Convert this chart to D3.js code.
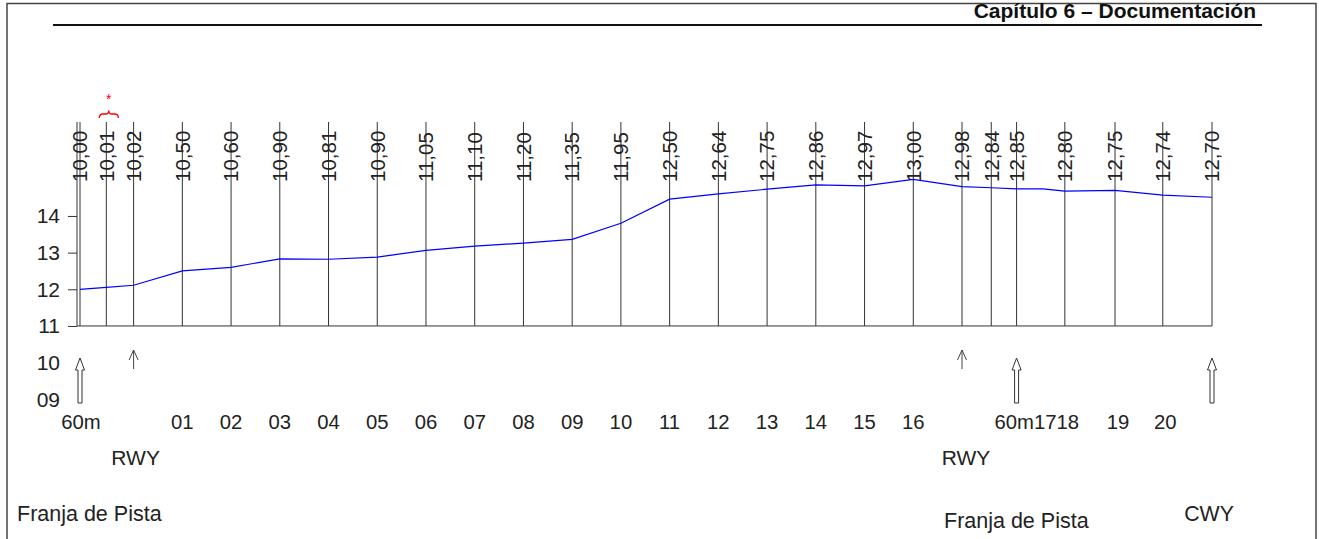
<!DOCTYPE html>
<html>
<head>
<meta charset="utf-8">
<script src="https://cdn.jsdelivr.net/npm/d3@7"></script>
<style>
  body { margin: 0; background: #fff; }
  svg { display: block; font-family: "Liberation Sans", Arial, sans-serif; }
  text { fill: #222; }
</style>
</head>
<body>
<svg id="chart" width="1319" height="539"></svg>
<script>
// stations with vertical line + rotated level label (distance from threshold, m)
var stationDist = [-110, -56, 0, 100, 200, 300, 400, 500, 600, 700, 800, 900, 1000,
    1100, 1200, 1300, 1400, 1500, 1600, 1700, 1760, 1812, 1911, 2014, 2112, 2213];
var stationLabels = ["10,00", "10,01", "10,02", "10,50", "10,60", "10,90", "10,81", "10,90",
    "11,05", "11,10", "11,20", "11,35", "11,95", "12,50", "12,64", "12,75", "12,86", "12,97",
    "13,00", "12,98", "12,84", "12,85", "12,80", "12,75", "12,74", "12,70"];

// blue profile as drawn
var profileDist = [-110, -56, 0, 100, 200, 300, 400, 500, 600, 700, 800, 900, 1000,
    1100, 1200, 1300, 1400, 1500, 1600, 1700, 1760, 1812, 1866, 1911, 2014, 2112, 2213];
var profileElev = [10.00, 10.05, 10.11, 10.50, 10.60, 10.83, 10.82, 10.88, 11.06, 11.18,
    11.26, 11.36, 11.80, 12.46, 12.60, 12.73, 12.85, 12.82, 13.00, 12.80, 12.77, 12.74,
    12.74, 12.68, 12.70, 12.57, 12.51];

// y axis ticks and the labels printed next to them
var yTickValues = [12, 11, 10, 9, 8, 7];
var yTickLabels = ["14", "13", "12", "11", "10", "09"];

// station names under the chart
var bottomNames = ["60m", "01", "02", "03", "04", "05", "06", "07", "08", "09", "10", "11",
    "12", "13", "14", "15", "16", "60m", "17", "18", "19", "20"];
var bottomDist = [-108, 100, 200, 300, 400, 500, 600, 700, 800, 900, 1000, 1100, 1200,
    1300, 1400, 1500, 1600, 1807, 1871, 1917, 2020, 2117];

// arrows: big hollow ones and thin ones
var bigArrowDist = [-110, 1812, 2213];
var thinArrowDist = [0, 1700];

var svg = d3.select("#chart");

var x = d3.scaleLinear().domain([-110, 2213]).range([80, 1212]);
var y = d3.scaleLinear().domain([7, 13]).range([399.3, 179.3]);

var lineTop = 122;
var baseY = y(9);

// page frame + header
svg.append("rect")
    .attr("x", 7).attr("y", 3.5).attr("width", 1309).attr("height", 560)
    .attr("fill", "none").attr("stroke", "#444").attr("stroke-width", 1.5);
svg.append("line")
    .attr("x1", 53).attr("x2", 1262).attr("y1", 25).attr("y2", 25)
    .attr("stroke", "#111").attr("stroke-width", 2);
svg.append("text")
    .attr("x", 1256).attr("y", 18)
    .attr("text-anchor", "end")
    .attr("font-size", 21).attr("font-weight", "bold")
    .style("fill", "#111")
    .text("Capítulo 6 – Documentación");

// y axis
var yAxis = d3.axisLeft(y)
    .tickValues(yTickValues)
    .tickFormat(function (d, i) { return yTickLabels[i]; })
    .tickSize(9)
    .tickPadding(8);
var gy = svg.append("g")
    .attr("transform", "translate(77,0)")
    .call(yAxis);
gy.select(".domain").remove();
gy.selectAll(".tick line")
    .attr("stroke", "#333")
    .attr("display", function (d) { return d < 9 ? "none" : null; });
gy.selectAll(".tick text")
    .attr("font-size", 21)
    .attr("font-family", "Liberation Sans, Arial, sans-serif")
    .style("fill", "#222");
svg.append("line")
    .attr("x1", 77).attr("x2", 77).attr("y1", lineTop).attr("y2", baseY)
    .attr("stroke", "#333");

// base line
svg.append("line")
    .attr("x1", 77).attr("x2", x(2213)).attr("y1", baseY).attr("y2", baseY)
    .attr("stroke", "#333");

// station verticals
svg.selectAll(".station")
    .data(stationDist)
    .enter()
    .append("line")
    .attr("class", "station")
    .attr("x1", function (d) { return x(d); })
    .attr("x2", function (d) { return x(d); })
    .attr("y1", lineTop)
    .attr("y2", baseY)
    .attr("stroke", "#333");

// rotated level labels
svg.selectAll(".lvl")
    .data(stationDist)
    .enter()
    .append("text")
    .attr("class", "lvl")
    .attr("transform", function (d) { return "translate(" + (x(d) + 7.3) + ",182) rotate(-90)"; })
    .attr("font-size", 20.5)
    .text(function (d, i) { return stationLabels[i]; });

// profile
var line = d3.line()
    .x(function (d, i) { return x(profileDist[i]); })
    .y(function (d) { return y(d); });
svg.append("path")
    .datum(profileElev)
    .attr("d", line)
    .attr("fill", "none")
    .attr("stroke", "#0000ff")
    .attr("stroke-width", 1.2);

// red brace and star over 10,01
var bx = x(stationDist[1]) + 2.5;
svg.append("path")
    .attr("d", "M" + (bx - 9.5) + ",118 Q" + (bx - 9.5) + ",114 " + (bx - 6) + ",114 L" + (bx - 3) + ",114 Q" + bx + ",114 " + bx + ",110.5 Q" + bx + ",114 " + (bx + 3) + ",114 L" + (bx + 6) + ",114 Q" + (bx + 9.5) + ",114 " + (bx + 9.5) + ",118")
    .attr("fill", "none").attr("stroke", "#f00").attr("stroke-width", 1.3);
svg.append("text")
    .attr("x", bx).attr("y", 104)
    .attr("text-anchor", "middle")
    .attr("font-size", 14)
    .style("fill", "#f00")
    .text("*");

// hollow arrows
svg.selectAll(".bigArrow")
    .data(bigArrowDist)
    .enter()
    .append("path")
    .attr("class", "bigArrow")
    .attr("d", function (d) {
        var c = x(d);
        return "M" + c + ",358 L" + (c + 4.5) + ",370 L" + (c + 2) + ",370 L" + (c + 2) + ",403 L" +
            (c - 2) + ",403 L" + (c - 2) + ",370 L" + (c - 4.5) + ",370 Z";
    })
    .attr("fill", "#fff").attr("stroke", "#333");

// thin arrows
svg.selectAll(".thinArrow")
    .data(thinArrowDist)
    .enter()
    .append("path")
    .attr("class", "thinArrow")
    .attr("d", function (d) {
        var c = x(d);
        return "M" + c + ",369 L" + c + ",350 M" + (c - 4.5) + ",360 L" + c + ",350 L" + (c + 4.5) + ",360";
    })
    .attr("fill", "none").attr("stroke", "#444");

// station names
svg.selectAll(".name")
    .data(bottomDist)
    .enter()
    .append("text")
    .attr("class", "name")
    .attr("x", function (d) { return x(d); })
    .attr("y", 429)
    .attr("text-anchor", "middle")
    .attr("font-size", 20.3)
    .text(function (d, i) { return bottomNames[i]; });

// zone labels
svg.append("text").attr("x", x(0) + 2).attr("y", 465).attr("text-anchor", "middle")
    .attr("font-size", 21).text("RWY");
svg.append("text").attr("x", x(1700) + 4).attr("y", 465).attr("text-anchor", "middle")
    .attr("font-size", 21).text("RWY");
svg.append("text").attr("x", 17).attr("y", 521).attr("font-size", 21.5).text("Franja de Pista");
svg.append("text").attr("x", 944).attr("y", 528).attr("font-size", 21.5).text("Franja de Pista");
svg.append("text").attr("x", x(2213) - 3).attr("y", 521).attr("text-anchor", "middle")
    .attr("font-size", 21.3).text("CWY");
</script>
</body>
</html>
